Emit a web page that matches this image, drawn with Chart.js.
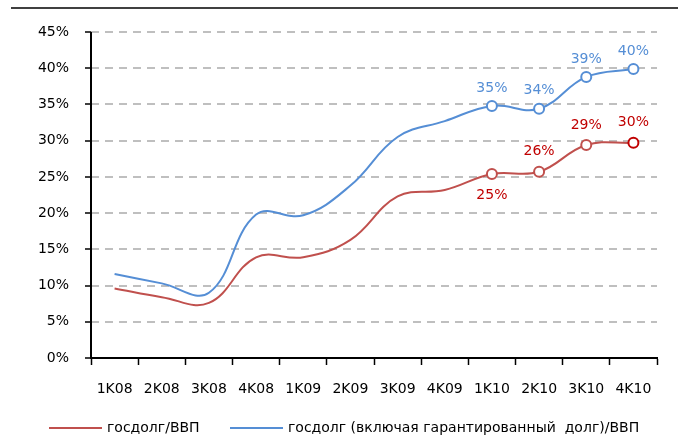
<!DOCTYPE html>
<html>
<head>
<meta charset="utf-8">
<script src="https://cdn.jsdelivr.net/npm/chart.js@4"></script>
<style>
  html, body { margin: 0; padding: 0; background: #fff; }
  #wrap { width: 678px; height: 441px; }
</style>
</head>
<body>
<div id="wrap"><canvas id="chart" width="678" height="441"></canvas></div>
<script>
// Quarters
const quarters = ['1K08', '2K08', '3K08', '4K08', '1K09', '2K09', '3K09', '4K09', '1K10', '2K10', '3K10', '4K10'];

// Debt / GDP, %
const debtGdp = [9.6, 8.4, 7.6, 13.9, 13.9, 16.3, 22.3, 23.2, 25.4, 25.7, 29.4, 29.7];

// Debt incl. guaranteed debt / GDP, %
const debtGuarGdp = [11.6, 10.3, 9.0, 19.8, 19.7, 23.8, 30.5, 32.7, 34.8, 34.4, 38.8, 39.9];

// Labelled points (index -> text)
const redLabels = { 8: '25%', 9: '26%', 10: '29%', 11: '30%' };
const blueLabels = { 8: '35%', 9: '34%', 10: '39%', 11: '40%' };

const seriesNames = ['госдолг/ВВП', 'госдолг (включая гарантированный  долг)/ВВП'];

const RED = '#C0504D';
const DARK_RED = '#C00000';
const BLUE = '#558ED5';
const FONT = '"DejaVu Sans", sans-serif';

const markerRadius = quarters.map((q, i) => (i >= 8 ? 5 : 0));

// Draws the y axis line, value labels, top rule and legend
const extras = {
  id: 'extras',
  beforeDatasetsDraw(chart) {
    const ctx = chart.ctx;
    const area = chart.chartArea;
    ctx.save();
    ctx.strokeStyle = '#000';
    ctx.lineWidth = 2;
    ctx.beginPath();
    ctx.moveTo(area.left, area.top);
    ctx.lineTo(area.left, area.bottom + 1);
    ctx.stroke();
    ctx.restore();
  },
  afterDatasetsDraw(chart) {
    const ctx = chart.ctx;
    ctx.save();
    ctx.font = '14px ' + FONT;
    ctx.textAlign = 'center';
    ctx.textBaseline = 'middle';

    const redMeta = chart.getDatasetMeta(0);
    Object.keys(redLabels).forEach(k => {
      const p = redMeta.data[k];
      const below = Number(k) === 8;
      ctx.fillStyle = DARK_RED;
      ctx.fillText(redLabels[k], p.x, p.y + (below ? 21 : -20));
    });

    const blueMeta = chart.getDatasetMeta(1);
    Object.keys(blueLabels).forEach(k => {
      const p = blueMeta.data[k];
      ctx.fillStyle = BLUE;
      ctx.fillText(blueLabels[k], p.x, p.y - 18);
    });
    ctx.restore();
  },
  afterDraw(chart) {
    const ctx = chart.ctx;
    ctx.save();
    // top rule
    ctx.strokeStyle = '#000';
    ctx.lineWidth = 1.5;
    ctx.beginPath();
    ctx.moveTo(11, 8);
    ctx.lineTo(678, 8);
    ctx.stroke();

    // legend
    ctx.font = '14px ' + FONT;
    ctx.textAlign = 'left';
    ctx.textBaseline = 'middle';
    const items = [
      { x: 49, color: RED, text: seriesNames[0] },
      { x: 230, color: BLUE, text: seriesNames[1] }
    ];
    items.forEach(it => {
      ctx.strokeStyle = it.color;
      ctx.lineWidth = 2;
      ctx.beginPath();
      ctx.moveTo(it.x, 428);
      ctx.lineTo(it.x + 53, 428);
      ctx.stroke();
      ctx.fillStyle = '#000';
      ctx.fillText(it.text, it.x + 58, 428);
    });
    ctx.restore();
  }
};

new Chart(document.getElementById('chart'), {
  type: 'line',
  data: {
    labels: quarters,
    datasets: [{
      label: seriesNames[0],
      data: debtGdp,
      borderColor: RED,
      borderWidth: 2,
      tension: 0.4,
      pointRadius: markerRadius,
      pointBackgroundColor: '#fff',
      pointBorderColor: quarters.map((q, i) => (i === 11 ? DARK_RED : RED)),
      pointBorderWidth: 2
    }, {
      label: seriesNames[1],
      data: debtGuarGdp,
      borderColor: BLUE,
      borderWidth: 2,
      tension: 0.4,
      pointRadius: markerRadius,
      pointBackgroundColor: '#fff',
      pointBorderColor: BLUE,
      pointBorderWidth: 2
    }]
  },
  options: {
    responsive: false,
    animation: false,
    layout: { padding: { left: 0, right: 21, top: 32, bottom: 0 } },
    plugins: {
      legend: { display: false },
      tooltip: { enabled: false }
    },
    scales: {
      x: {
        offset: true,
        grid: {
          offset: true,
          drawOnChartArea: false,
          drawTicks: true,
          tickLength: 7,
          tickColor: '#000',
          tickWidth: 1.5
        },
        border: { color: '#000', width: 2 },
        ticks: {
          color: '#000',
          font: { family: FONT, size: 14 },
          padding: 16,
          maxRotation: 0
        },
        afterFit(scale) { scale.height = 83; }
      },
      y: {
        min: 0,
        max: 45,
        grid: {
          color: ctx => (ctx.tick && ctx.tick.value === 0 ? 'rgba(0,0,0,0)' : '#BFBFBF'),
          lineWidth: 2,
          tickBorderDash: [],
          tickColor: '#000',
          tickLength: 6,
          tickWidth: 1.5
        },
        border: { display: false, color: '#000', width: 2, dash: [8, 6] },
        ticks: {
          stepSize: 5,
          color: '#000',
          font: { family: FONT, size: 14 },
          padding: 16,
          callback: v => v + '%'
        },
        afterFit(scale) { scale.width = 91; }
      }
    }
  },
  plugins: [extras]
});
</script>
</body>
</html>
